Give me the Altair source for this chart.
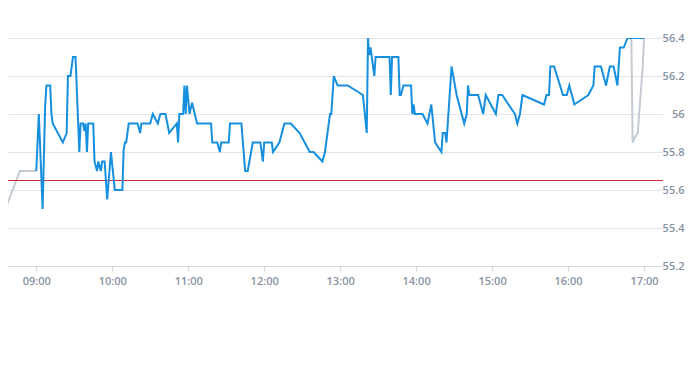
import altair as alt
import pandas as pd

DAY = "2024-01-02"

blue_times = ["09:00","09:02","09:05","09:07","09:08","09:11","09:12","09:13","09:21","09:24",
              "09:25","09:27","09:29","09:31","09:34","09:35","09:37","09:38","09:39","09:40",
              "09:41","09:45","09:46","09:48","09:49","09:51","09:52","09:54","09:56","09:59",
              "10:02","10:08","10:09","10:10","10:11","10:13","10:20","10:22","10:23","10:30",
              "10:32","10:36","10:38","10:42","10:45","10:51","10:52","10:53","10:56","10:57",
              "10:58","10:59","11:01","11:03","11:07","11:18","11:19","11:23","11:25","11:26",
              "11:32","11:33","11:42","11:45","11:47","11:51","11:57","11:59","12:00","12:06",
              "12:07","12:12","12:16","12:21","12:28","12:36","12:39","12:46","12:48","12:52",
              "12:53","12:55","12:58","13:06","13:18","13:21","13:22","13:23","13:24","13:25",
              "13:27","13:28","13:39","13:40","13:41","13:46","13:47","13:48","13:50","13:56",
              "13:57","13:58","13:59","14:05","14:09","14:12","14:15","14:20","14:21","14:23",
              "14:24","14:28","14:32","14:38","14:40","14:41","14:42","14:49","14:53","14:55",
              "15:03","15:05","15:08","15:18","15:20","15:22","15:24","15:41","15:43","15:45",
              "15:46","15:49","15:56","15:59","16:01","16:03","16:05","16:16","16:20","16:21",
              "16:26","16:30","16:33","16:36","16:39","16:41","16:44","16:47","17:00"]
blue_values = [55.70,56.00,55.50,56.04,56.15,56.15,56.00,55.95,55.85,55.90,
               56.20,56.20,56.30,56.30,55.80,55.95,55.95,55.91,55.95,55.80,
               55.95,55.95,55.75,55.70,55.75,55.70,55.75,55.75,55.55,55.80,
               55.60,55.60,55.81,55.85,55.85,55.95,55.95,55.90,55.95,55.95,
               56.00,55.95,56.00,56.00,55.90,55.95,55.85,56.00,56.00,56.15,
               56.00,56.15,56.00,56.06,55.95,55.95,55.85,55.85,55.80,55.85,
               55.85,55.95,55.95,55.70,55.70,55.85,55.85,55.75,55.85,55.85,
               55.80,55.85,55.95,55.95,55.90,55.80,55.80,55.75,55.80,56.00,
               56.00,56.20,56.15,56.15,56.10,55.90,56.40,56.31,56.35,56.30,
               56.20,56.30,56.30,56.10,56.30,56.30,56.10,56.10,56.15,56.15,
               56.00,56.05,56.00,56.00,55.95,56.05,55.85,55.80,55.90,55.90,
               55.85,56.25,56.10,55.95,56.00,56.15,56.10,56.10,56.00,56.10,
               56.00,56.10,56.10,56.00,55.95,56.00,56.10,56.05,56.10,56.10,
               56.25,56.25,56.10,56.10,56.15,56.10,56.05,56.10,56.15,56.25,
               56.25,56.15,56.25,56.25,56.15,56.35,56.35,56.40,56.40]

gray_times = ["08:30","08:47","09:00", None, "16:50","16:51","16:53","16:55","16:59","17:00"]
gray_values = [55.40,55.70,55.70, None, 56.40,55.85,55.88,55.90,56.25,56.40]
gray_segment = [0,0,0,None,1,1,1,1,1,1]

ref_value = 55.65
y_ticks = [55.2, 55.4, 55.6, 55.8, 56.0, 56.2, 56.4]
x_tick_hours = [9, 10, 11, 12, 13, 14, 15, 16, 17]

blue_df = pd.DataFrame({"t": [f"{DAY}T{t}:00" for t in blue_times], "v": blue_values})
gray_df = pd.DataFrame({
    "t": [f"{DAY}T{t}:00" for t, s in zip(gray_times, gray_segment) if s is not None],
    "v": [v for v, s in zip(gray_values, gray_segment) if s is not None],
    "seg": [s for s in gray_segment if s is not None],
})
ref_df = pd.DataFrame({"v": [ref_value]})

label_color = "#8793a3"
grid_color = "#e3e5ea"

x_scale = alt.Scale(domain=[alt.DateTime(year=2024, month=1, date=2, hours=8, minutes=37, seconds=40),
                            alt.DateTime(year=2024, month=1, date=2, hours=17, minutes=15)])
y_scale = alt.Scale(domain=[55.2, 56.4], nice=False, zero=False)

x_axis = alt.Axis(
    values=[alt.DateTime(year=2024, month=1, date=2, hours=h) for h in x_tick_hours],
    format="%H:%M", title=None, grid=False, domainColor="#d5d8de", tickColor="#d5d8de",
    tickSize=5, labelColor=label_color, labelFont="Open Sans", labelFontSize=11,
    labelFontWeight=600, labelPadding=4,
)
y_axis = alt.Axis(
    values=y_ticks, format="~g", orient="right", title=None, domain=False, ticks=False,
    gridColor=grid_color, labelColor=label_color, labelFont="Open Sans", labelFontSize=11,
    labelFontWeight=600, labelAlign="right", labelPadding=21, labelOverlap=False,
    tickCount=7,
)

gray = alt.Chart(gray_df).mark_line(color="#c3cad2", strokeWidth=2, clip=True).encode(
    x=alt.X("t:T", scale=x_scale, axis=x_axis),
    y=alt.Y("v:Q", scale=y_scale, axis=y_axis),
    detail="seg:N",
)
blue = alt.Chart(blue_df).mark_line(color="#168fdf", strokeWidth=2, clip=True).encode(
    x=alt.X("t:T", scale=x_scale, axis=x_axis),
    y=alt.Y("v:Q", scale=y_scale, axis=y_axis),
)
ref = alt.Chart(ref_df).mark_rule(color="#cf2b2b", strokeWidth=1).encode(
    y=alt.Y("v:Q", scale=y_scale, axis=y_axis),
)

chart = alt.layer(gray, ref, blue).properties(
    width=655, height=228,
    autosize=alt.AutoSizeParams(type="none"),
    padding={"left": 0, "top": 30, "right": 22, "bottom": 40},
).configure_view(stroke=None)

chart.save("out.html", embed_options={"renderer": "svg", "actions": False})
